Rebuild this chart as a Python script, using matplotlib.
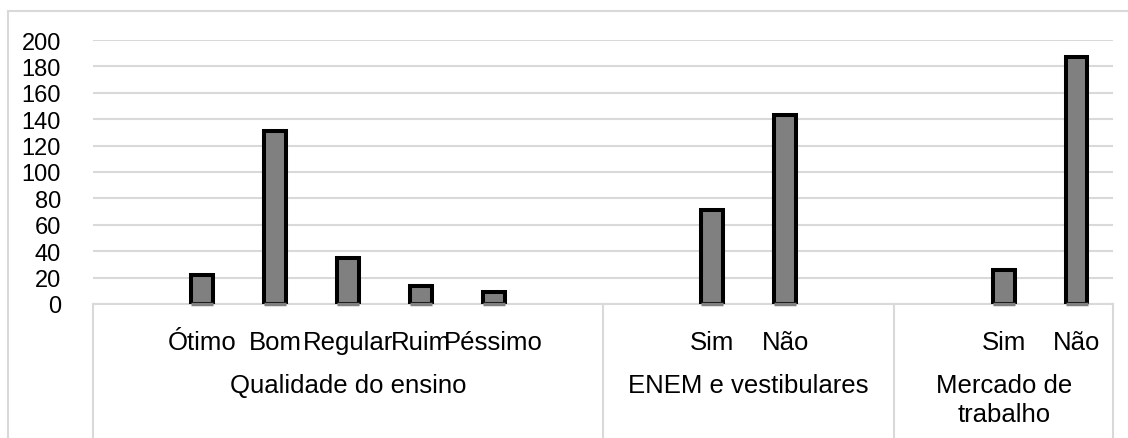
import numpy as np
import matplotlib
import matplotlib.pyplot as plt
from matplotlib.patches import Rectangle
import matplotlib.transforms as mtrans

matplotlib.use('agg')
plt.rcParams['font.family'] = ['Liberation Sans', 'DejaVu Sans']

# data (empty strings / None = blank Excel categories)
groups = ["Qualidade do ensino", "ENEM e vestibulares", "Mercado de\ntrabalho"]
qualidade_labels = ["", "Ótimo", "Bom", "Regular", "Ruim", "Péssimo", ""]
qualidade_values = [None, 22, 131, 35, 14, 9, None]
enem_labels = ["", "Sim", "Não", ""]
enem_values = [None, 71, 143, None]
mercado_labels = ["", "Sim", "Não"]
mercado_values = [None, 26, 187]

all_labels = [qualidade_labels, enem_labels, mercado_labels]
all_values = [qualidade_values, enem_values, mercado_values]

GRID = "#d9d9d9"
FS = 18.5

fig = plt.figure(figsize=(11.28, 4.39), dpi=100)
ax = fig.add_axes([93 / 1128, 1 - 305 / 439, 1020 / 1128, 264 / 439])

# chart border (partly off-image)
fig.patches.append(Rectangle((8 / 1128, -0.1), 1.2, 1 - 12 / 439 + 0.1,
                             transform=fig.transFigure, fill=False,
                             edgecolor=GRID, linewidth=1.5))

trans = mtrans.blended_transform_factory(ax.transData, ax.transAxes)

pos = 0
bounds = [0]
for grp, labs, vals in zip(groups, all_labels, all_values):
    start = pos
    for lab, v in zip(labs, vals):
        x = pos + 0.5
        if v is not None:
            ax.bar(x, v, width=0.30, color="#808080", edgecolor="black",
                   linewidth=2.9, zorder=3)
            # thin grey shadow under the bar like Excel draws
            ax.plot([x - 0.15, x + 0.15], [0, 0], color="#808080",
                    linewidth=2.5, solid_capstyle='butt', zorder=4,
                    clip_on=False)
        if lab:
            ax.text(x, -0.172, lab, transform=trans, ha='center', va='baseline',
                    fontsize=FS)
        pos += 1
    bounds.append(pos)
    ax.text((start + pos) / 2, -0.26, grp, transform=trans, ha='center',
            va='top', fontsize=FS, linespacing=1.3)

# separators in the category area
for b in bounds:
    ax.plot([b, b], [0, -0.52], transform=trans, color=GRID, linewidth=1.5,
            clip_on=False, zorder=1)
ax.plot([0, pos], [0, 0], color=GRID, linewidth=1.5, clip_on=False, zorder=2)

ax.set_xlim(0, pos)
ax.set_ylim(0, 200)
ax.set_yticks(np.arange(0, 201, 20))
ax.yaxis.grid(True, color=GRID, linewidth=1.5, zorder=0)
ax.set_axisbelow(True)
ax.set_xticks([])
ax.tick_params(axis='y', length=0, pad=23, labelsize=17)
for s in ax.spines.values():
    s.set_visible(False)

fig.savefig("out.png", dpi=100)
